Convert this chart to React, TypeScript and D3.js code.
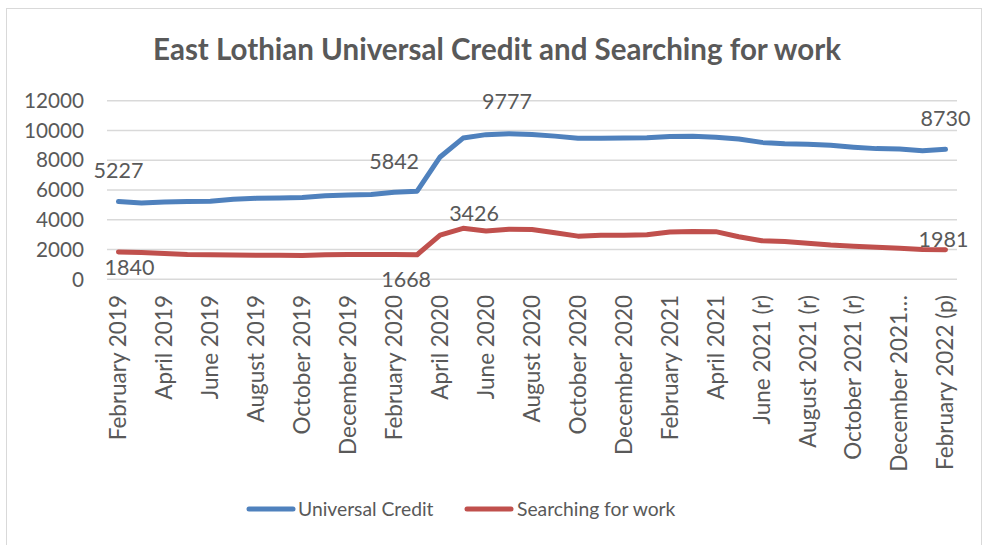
import React from "react";
import * as d3 from "d3";

const categories: string[] = [
  "February 2019","March 2019","April 2019","May 2019","June 2019","July 2019","August 2019","September 2019","October 2019","November 2019","December 2019","January 2020",
  "February 2020","March 2020","April 2020","May 2020","June 2020","July 2020","August 2020","September 2020","October 2020","November 2020","December 2020","January 2021",
  "February 2021","March 2021","April 2021","May 2021","June 2021 (r)","July 2021 (r)","August 2021 (r)","September 2021 (r)","October 2021 (r)","November 2021 (r)","December 2021…","January 2022 (r)",
  "February 2022 (p)"
];

const universalCredit: number[] = [
  5227, 5130, 5200, 5230, 5250, 5380, 5440, 5460, 5500, 5620, 5660, 5700,
  5842, 5920, 8220, 9490, 9720, 9777, 9730, 9620, 9480, 9480, 9490, 9510,
  9600, 9610, 9550, 9420, 9200, 9100, 9080, 9000, 8880, 8780, 8750, 8640,
  8730
];

const searchingForWork: number[] = [
  1840, 1800, 1730, 1670, 1650, 1640, 1620, 1610, 1600, 1650, 1660, 1670,
  1668, 1650, 2970, 3426, 3240, 3370, 3350, 3125, 2900, 2960, 2960, 3000,
  3180, 3220, 3200, 2860, 2590, 2540, 2430, 2300, 2220, 2160, 2080, 2010,
  1981
];

const tickLabelIndices: number[] = [0,2,4,6,8,10,12,14,16,18,20,22,24,26,28,30,32,34,36];
const yTicks: number[] = [0, 2000, 4000, 6000, 8000, 10000, 12000];

const ucLabelIdx: number[] = [0, 12, 17, 36];
const sfwLabelIdx: number[] = [0, 12, 15, 36];

const title = "East Lothian Universal Credit and Searching for work";
const seriesNames = ["Universal Credit", "Searching for work"];

// style / offsets
const UC_COLOR = "#4F81BD";
const SFW_COLOR = "#C0504D";
const TEXT = "#595959";
const FONT = "Lato, 'Open Sans', sans-serif";
const ucLabelOffsets: Record<number, [number, number]> = { 0: [0, -31], 12: [0, -31], 17: [-2, -32], 36: [0, -31] };
const sfwLabelOffsets: Record<number, [number, number]> = { 0: [11, 16], 12: [12, 25], 15: [11, -15], 36: [-2, -10.5] };

export default function App() {
  const W = 984, H = 545;
  const x = d3.scaleBand<number>().domain(d3.range(categories.length)).range([107, 957]).padding(0);
  const xc = (i: number) => (x(i) as number) + x.bandwidth() / 2;
  const y = d3.scaleLinear().domain([0, 12000]).range([279.3, 100.7]);
  const line = d3.line<number>().x((_, i) => xc(i)).y(d => y(d));

  return (
    <svg width={W} height={H} style={{ position: "absolute", left: 0, top: 0, background: "#fff" }} fontFamily={FONT}>
      <rect x={0} y={0} width={W} height={H} fill="#fff" />
      <rect x={6.5} y={8.5} width={975} height={560} fill="none" stroke="#d9d9d9" strokeWidth={1} />
      <text x={497} y={50} dy="0.35em" textAnchor="middle" fontSize={29.5} fontWeight={700} fill={TEXT}>{title}</text>
      {yTicks.map(t => (
        <g key={t}>
          <line x1={107} x2={957} y1={y(t)} y2={y(t)} stroke="#d9d9d9" strokeWidth={1.5} />
          <text x={84} y={y(t)} dy="0.35em" textAnchor="end" fontSize={20.7} fill={TEXT}>{t}</text>
        </g>
      ))}
      {tickLabelIndices.map(i => (
        <text key={i} transform={`translate(${xc(i)},295) rotate(-90)`} dy="0.35em" textAnchor="end" fontSize={22.5} fill={TEXT}>{categories[i]}</text>
      ))}
      <path d={line(universalCredit) || ""} fill="none" stroke={UC_COLOR} strokeWidth={5} strokeLinecap="round" strokeLinejoin="round" />
      <path d={line(searchingForWork) || ""} fill="none" stroke={SFW_COLOR} strokeWidth={5} strokeLinecap="round" strokeLinejoin="round" />
      {ucLabelIdx.map(i => (
        <text key={"u" + i} x={xc(i) + ucLabelOffsets[i][0]} y={y(universalCredit[i]) + ucLabelOffsets[i][1]} dy="0.35em" textAnchor="middle" fontSize={21.5} fill={TEXT}>{universalCredit[i]}</text>
      ))}
      {sfwLabelIdx.map(i => (
        <text key={"s" + i} x={xc(i) + sfwLabelOffsets[i][0]} y={y(searchingForWork[i]) + sfwLabelOffsets[i][1]} dy="0.35em" textAnchor="middle" fontSize={21.5} fill={TEXT}>{searchingForWork[i]}</text>
      ))}
      <g>
        <line x1={249} x2={293} y1={509} y2={509} stroke={UC_COLOR} strokeWidth={5} strokeLinecap="round" />
        <text x={298} y={509} dy="0.35em" fontSize={19.3} fill={TEXT}>{seriesNames[0]}</text>
        <line x1={467} x2={511} y1={509} y2={509} stroke={SFW_COLOR} strokeWidth={5} strokeLinecap="round" />
        <text x={517} y={509} dy="0.35em" fontSize={19.3} fill={TEXT}>{seriesNames[1]}</text>
      </g>
    </svg>
  );
}
